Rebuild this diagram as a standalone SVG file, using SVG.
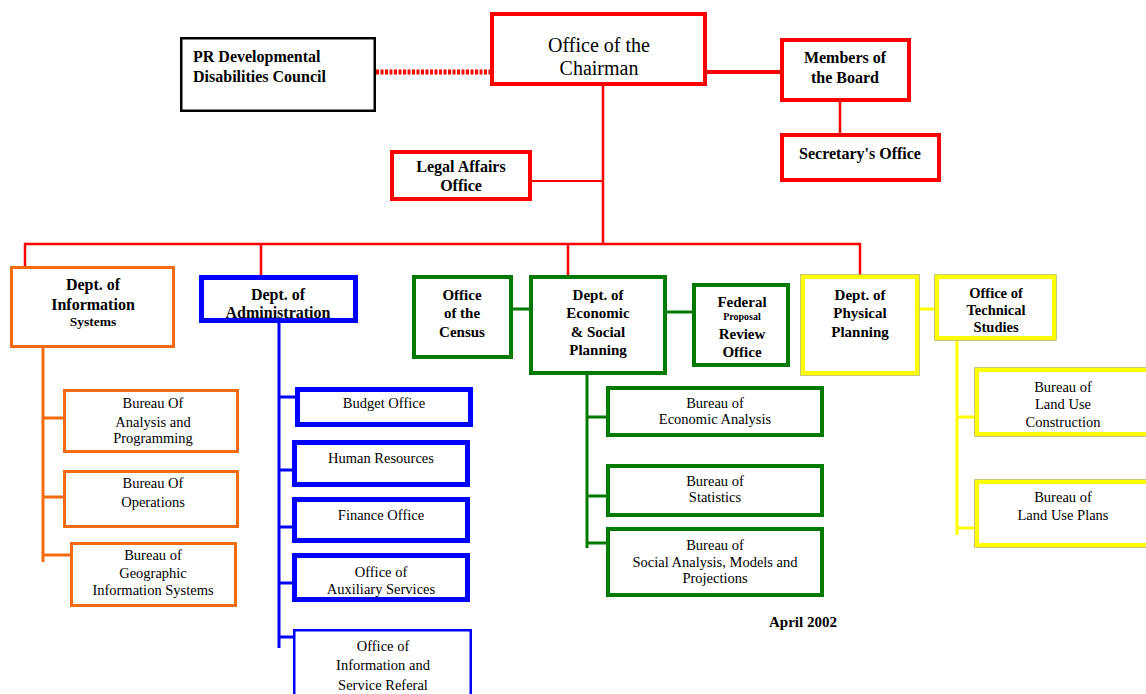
<svg xmlns="http://www.w3.org/2000/svg" width="1146" height="694" viewBox="0 0 1146 694">
<style>
text{font-family:"Liberation Serif","Times New Roman",serif;fill:#000;text-anchor:middle}
.b{font-weight:bold;font-size:15px}
.b16{font-weight:bold;font-size:16px}
.r{font-size:14.5px}
.box{fill:#fff}
.red{stroke:#ff0000;stroke-width:4}
.blk{stroke:#000;stroke-width:2.5}
.org{stroke:#f26b0f;stroke-width:3}
.blu{stroke:#0000ff;stroke-width:5}
.grn{stroke:#007a00;stroke-width:4}
.yel{stroke:#ffff00;stroke-width:4}
.yo{fill:none;stroke:#b8b860;stroke-width:0.8}
.c{fill:none}
</style>
<rect width="1146" height="694" fill="#fff"/>
<g id="connectors" class="c">
<line x1="376" y1="72" x2="490" y2="72" stroke="#ff0000" stroke-width="5" stroke-dasharray="3 1.5"/>
<line x1="707" y1="72" x2="780" y2="72" stroke="#ff0000" stroke-width="4"/>
<line x1="840" y1="102" x2="840" y2="133" stroke="#ff0000" stroke-width="2.5"/>
<line x1="603" y1="86" x2="603" y2="245" stroke="#ff0000" stroke-width="2.5"/>
<line x1="532" y1="181" x2="603" y2="181" stroke="#ff0000" stroke-width="2"/>
<line x1="24" y1="244" x2="861" y2="244" stroke="#ff0000" stroke-width="2.5"/>
<line x1="25" y1="243" x2="25" y2="266" stroke="#ff0000" stroke-width="2.5"/>
<line x1="261" y1="243" x2="261" y2="275" stroke="#ff0000" stroke-width="2.5"/>
<line x1="568" y1="243" x2="568" y2="275" stroke="#ff0000" stroke-width="2.5"/>
<line x1="860" y1="243" x2="860" y2="275" stroke="#ff0000" stroke-width="2.5"/>
<g stroke="#f26b0f" stroke-width="3">
<line x1="43" y1="348" x2="43" y2="562"/>
<line x1="43" y1="418" x2="63" y2="418"/>
<line x1="43" y1="497" x2="63" y2="497"/>
<line x1="43" y1="555" x2="70" y2="555"/>
</g>
<g stroke="#0000ff" stroke-width="3">
<line x1="279" y1="323" x2="279" y2="648"/>
<line x1="279" y1="397" x2="295" y2="397"/>
<line x1="279" y1="470" x2="292" y2="470"/>
<line x1="279" y1="527" x2="292" y2="527"/>
<line x1="279" y1="583" x2="292" y2="583"/>
<line x1="279" y1="637" x2="293" y2="637"/>
</g>
<g stroke="#007a00" stroke-width="3">
<line x1="513" y1="309" x2="529" y2="309"/>
<line x1="667" y1="312" x2="692" y2="312"/>
<line x1="587" y1="375" x2="587" y2="548"/>
<line x1="587" y1="417" x2="606" y2="417"/>
<line x1="587" y1="496" x2="606" y2="496"/>
<line x1="587" y1="543" x2="606" y2="543"/>
</g>
<g stroke="#ffff00" stroke-width="3">
<line x1="919" y1="309" x2="935" y2="309"/>
<line x1="957" y1="340" x2="957" y2="535"/>
<line x1="957" y1="417" x2="975" y2="417"/>
<line x1="957" y1="528" x2="975" y2="528"/>
</g>
</g>
<g id="pr-council"><rect class="box blk" x="181.25" y="38.25" width="193.5" height="72.5"/><text class="b16" style="text-anchor:start" x="193" y="62">PR Developmental</text><text class="b16" style="text-anchor:start" x="193" y="82">Disabilities Council</text></g>
<g id="chairman"><rect class="box red" x="492" y="14" width="213" height="70"/><text x="599" y="52" style="font-size:20px">Office of the</text><text x="599" y="75" style="font-size:20px">Chairman</text></g>
<g id="members"><rect class="box red" x="782" y="40" width="127" height="60"/><text class="b16" x="845" y="63">Members of</text><text class="b16" x="845" y="83">the Board</text></g>
<g id="secretary"><rect class="box red" x="782" y="135" width="157" height="45"/><text class="b16" x="860" y="159">Secretary's Office</text></g>
<g id="legal"><rect class="box red" x="392" y="152" width="138" height="47"/><text class="b16" x="461" y="172">Legal Affairs</text><text class="b16" x="461" y="191">Office</text></g>
<g id="dept-info"><rect class="box org" x="11.5" y="267.5" width="162" height="79"/><text class="b16" x="93" y="290">Dept. of</text><text class="b16" x="93" y="310">Information</text><text class="b" style="font-size:13.5px" x="93" y="326">Systems</text></g>
<g id="dept-admin"><rect class="box blu" x="201.5" y="277.5" width="154" height="43"/><text class="b16" x="278" y="300">Dept. of</text><text class="b16" x="278" y="318">Administration</text></g>
<g id="census"><rect class="box grn" x="414" y="277" width="97" height="80"/><text class="b" x="462" y="300">Office</text><text class="b" x="462" y="318">of the</text><text class="b" x="462" y="337">Census</text></g>
<g id="dept-econ"><rect class="box grn" x="531" y="277" width="134" height="96"/><text class="b" x="598" y="300">Dept. of</text><text class="b" x="598" y="318">Economic</text><text class="b" x="598" y="337">&amp; Social</text><text class="b" x="598" y="355">Planning</text></g>
<g id="federal"><rect class="box grn" x="694" y="285" width="94" height="80"/><text class="b" x="742" y="307">Federal</text><text class="b" style="font-size:10px" x="742" y="320">Proposal</text><text class="b" x="742" y="339">Review</text><text class="b" x="742" y="357">Office</text></g>
<g id="dept-physical"><rect class="box yel" x="803" y="277" width="114" height="96"/><rect class="yo" x="800.6" y="274.6" width="118.8" height="100.8"/><text class="b" x="860" y="300">Dept. of</text><text class="b" x="860" y="318">Physical</text><text class="b" x="860" y="337">Planning</text></g>
<g id="technical"><rect class="box yel" x="937" y="277" width="117" height="61"/><rect class="yo" x="934.6" y="274.6" width="121.8" height="65.8"/><text class="b" style="font-size:14.5px" x="996" y="298">Office of</text><text class="b" style="font-size:14.5px" x="996" y="315">Technical</text><text class="b" style="font-size:14.5px" x="996" y="332">Studies</text></g>
<g id="bureau-analysis"><rect class="box org" x="64.5" y="390.5" width="173" height="61"/><text class="r" x="153" y="408">Bureau Of</text><text class="r" x="153" y="427">Analysis and</text><text class="r" x="153" y="443">Programming</text></g>
<g id="bureau-operations"><rect class="box org" x="64.5" y="471.5" width="173" height="55"/><text class="r" x="153" y="488">Bureau Of</text><text class="r" x="153" y="507">Operations</text></g>
<g id="bureau-gis"><rect class="box org" x="71.5" y="543.5" width="164" height="62"/><text class="r" x="153" y="560">Bureau of</text><text class="r" x="153" y="578">Geographic</text><text class="r" x="153" y="595">Information Systems</text></g>
<g id="budget"><rect class="box blu" x="297.5" y="389.5" width="173" height="35"/><text class="r" x="384" y="408">Budget Office</text></g>
<g id="hr"><rect class="box blu" x="294.5" y="442.5" width="173" height="42"/><text class="r" x="381" y="463">Human Resources</text></g>
<g id="finance"><rect class="box blu" x="294.5" y="499.5" width="173" height="41"/><text class="r" x="381" y="520">Finance  Office</text></g>
<g id="auxiliary"><rect class="box blu" x="294.5" y="555.5" width="173" height="44"/><text class="r" x="381" y="577">Office of</text><text class="r" x="381" y="594">Auxiliary Services</text></g>
<g id="info-referal"><rect class="box" stroke="#0000ff" stroke-width="2.5" x="294.25" y="630.25" width="176.5" height="70"/><text class="r" x="383" y="651">Office of</text><text class="r" x="383" y="670">Information and</text><text class="r" x="383" y="690">Service Referal</text></g>
<g id="bureau-econ"><rect class="box grn" x="608" y="388" width="214" height="47"/><text class="r" x="715" y="408">Bureau of</text><text class="r" x="715" y="424">Economic Analysis</text></g>
<g id="bureau-stats"><rect class="box grn" x="608" y="466" width="214" height="49"/><text class="r" x="715" y="486">Bureau of</text><text class="r" x="715" y="502">Statistics</text></g>
<g id="bureau-social"><rect class="box grn" x="608" y="529" width="214" height="66"/><text class="r" x="715" y="550">Bureau of</text><text class="r" x="715" y="567">Social Analysis, Models and</text><text class="r" x="715" y="583">Projections</text></g>
<g id="bureau-land-construction"><rect class="box yel" x="977" y="370" width="175" height="64"/><rect class="yo" x="974.6" y="367.6" width="179.8" height="68.8"/><text class="r" x="1063" y="392">Bureau of</text><text class="r" x="1063" y="409">Land Use</text><text class="r" x="1063" y="427">Construction</text></g>
<g id="bureau-land-plans"><rect class="box yel" x="977" y="482" width="175" height="63"/><rect class="yo" x="974.6" y="479.6" width="179.8" height="67.8"/><text class="r" x="1063" y="502">Bureau of</text><text class="r" x="1063" y="520">Land Use Plans</text></g>
<text class="b" x="803" y="627">April 2002</text>
</svg>
